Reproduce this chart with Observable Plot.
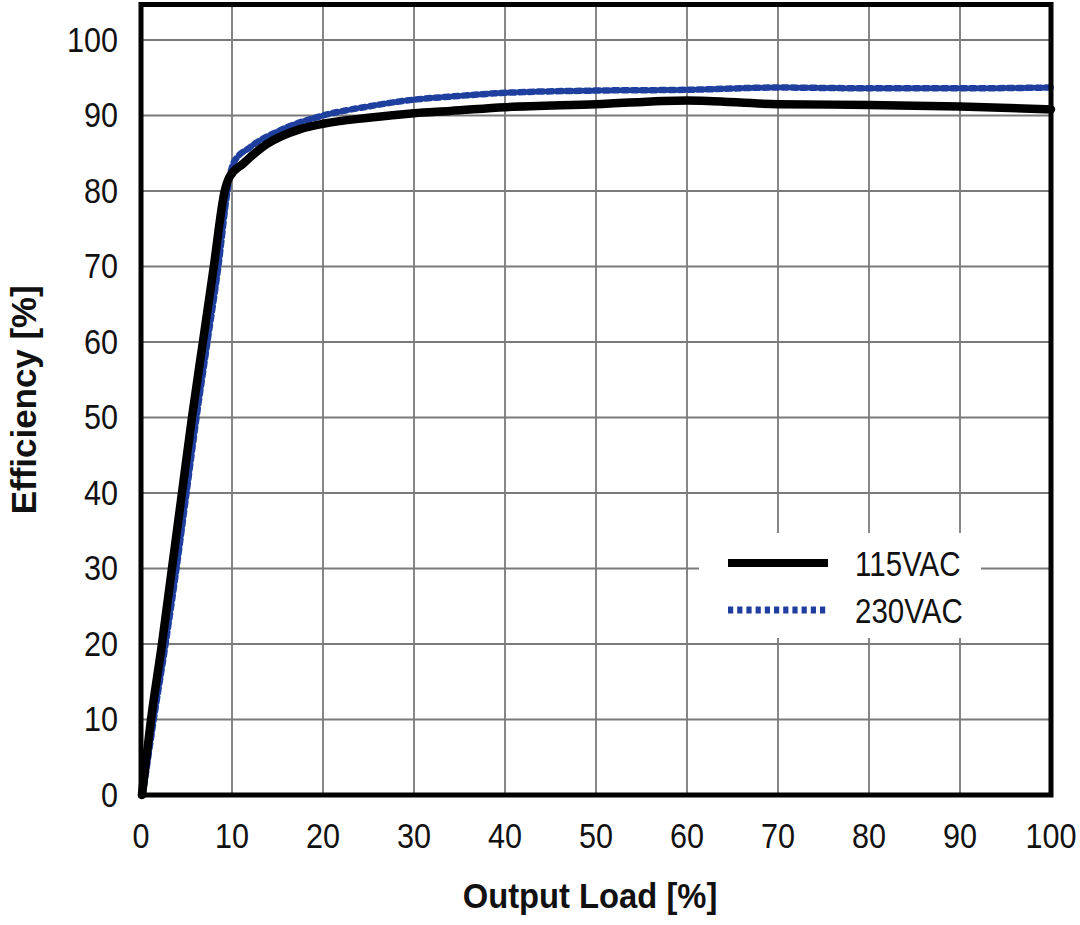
<!DOCTYPE html>
<html>
<head>
<meta charset="utf-8">
<script src="https://cdn.jsdelivr.net/npm/d3@7"></script>
<script src="https://cdn.jsdelivr.net/npm/@observablehq/plot@0.6"></script>
<style>
  html, body { margin: 0; padding: 0; background: #fff; }
  #wrap { position: relative; width: 1080px; height: 925px; font-family: 'Liberation Sans', Arial, sans-serif; }
  #legend { position: absolute; left: 699px; top: 533px; width: 282px; height: 105px; background: #fff; }
</style>
</head>
<body>
<div id="wrap"></div>
<script>
// ---- data ----
const seriesNames = ["115VAC", "230VAC"];
const load115 = [0.1, 1.1, 2.3, 3.4, 4.5, 5.6, 6.8, 8.0, 9.2, 9.7, 11.2, 13.8, 17.5, 20, 25, 30, 34, 40, 50, 60, 70, 80, 90, 100];
const eff115  = [0, 10, 20, 30, 40, 50, 60, 70, 80, 81.8, 83.6, 86.2, 88.2, 88.9, 89.7, 90.3, 90.6, 91.1, 91.5, 92.0, 91.5, 91.4, 91.2, 90.8];
const load230 = [0.2, 1.4, 2.7, 3.9, 5.0, 6.1, 7.3, 8.5, 9.5, 9.8, 10.2, 12.0, 15.6, 20, 25, 30, 34, 40, 50, 60, 70, 80, 90, 100];
const eff230  = [0, 10, 20, 30, 40, 50, 60, 70, 80, 82.2, 83.8, 85.8, 88.2, 90.0, 91.2, 92.1, 92.5, 93.0, 93.3, 93.4, 93.7, 93.6, 93.6, 93.7];
const xTicks = [0, 10, 20, 30, 40, 50, 60, 70, 80, 90, 100];
const yTicks = [0, 10, 20, 30, 40, 50, 60, 70, 80, 90, 100];
const xTitle = "Output Load [%]";
const yTitle = "Efficiency [%]";

const colors = {"115VAC": "#000000", "230VAC": "#1e3f9e"};

const rows = [
  ...load115.map((x, i) => ({series: seriesNames[0], load: x, eff: eff115[i]})),
  ...load230.map((x, i) => ({series: seriesNames[1], load: x, eff: eff230[i]}))
];

const font = "'Liberation Sans', Arial, sans-serif";

const chart = Plot.plot({
  width: 1080,
  height: 925,
  marginLeft: 140.5,
  marginRight: 29.5,
  marginTop: 4,
  marginBottom: 130.5,
  style: {fontFamily: font, background: "#fff", color: "#000"},
  x: {domain: [0, 100]},
  y: {domain: [0, 104.7]},
  marks: [
    Plot.gridX(xTicks.filter(d => d > 0 && d < 100), {stroke: "#7a7a7a", strokeOpacity: 1, strokeWidth: 1.8}),
    Plot.gridY(yTicks.filter(d => d > 0), {stroke: "#7a7a7a", strokeOpacity: 1, strokeWidth: 1.8}),
    Plot.axisX(xTicks, {tickSize: 0, tickPadding: 27, fontSize: 36, label: null, fill: "#111"}),
    Plot.axisY(yTicks, {tickSize: 0, tickPadding: 23, fontSize: 36, label: null, fill: "#111"}),
    Plot.line(rows.filter(d => d.series === seriesNames[1]), {
      x: "load", y: "eff", stroke: colors[seriesNames[1]], strokeWidth: 6.5,
      strokeDasharray: "4.8,4.6", curve: "monotone-x"
    }),
    Plot.line(rows.filter(d => d.series === seriesNames[0]), {
      x: "load", y: "eff", stroke: colors[seriesNames[0]], strokeWidth: 8.5,
      strokeLinejoin: "round", curve: "monotone-x"
    }),
    Plot.frame({stroke: "#000", strokeWidth: 5}),
    Plot.text([xTitle], {frameAnchor: "bottom", dy: 101, dx: -6, lineAnchor: "middle", textAnchor: "middle",
      fontSize: 36, fontWeight: "bold", fill: "#111", className: "xtitle"}),
    Plot.text([yTitle], {frameAnchor: "left", dx: -117, rotate: -90, lineAnchor: "middle", textAnchor: "middle",
      fontSize: 36, fontWeight: "bold", fill: "#111", className: "ytitle"})
  ]
});

// condense text horizontally (reference uses a condensed face)
function condense(sel, s) {
  sel.forEach(t => {
    const T = t.getAttribute("transform") || "";
    t.setAttribute("transform", `${T} scale(${s},1)`);
  });
}
condense(chart.querySelectorAll('g[aria-label="x-axis tick label"] text, g[aria-label="y-axis tick label"] text'), 0.85);
condense(chart.querySelectorAll('.xtitle text'), 0.91);
condense(chart.querySelectorAll('.ytitle text'), 0.97);

const wrap = document.getElementById("wrap");
wrap.appendChild(chart);

// legend overlay
const legend = document.createElement("div");
legend.id = "legend";
const ns = "http://www.w3.org/2000/svg";
const lsvg = document.createElementNS(ns, "svg");
lsvg.setAttribute("width", 282);
lsvg.setAttribute("height", 105);
const rowsY = [30, 77];
seriesNames.forEach((name, i) => {
  const ln = document.createElementNS(ns, "line");
  ln.setAttribute("x1", 29); ln.setAttribute("x2", 129);
  ln.setAttribute("y1", rowsY[i]); ln.setAttribute("y2", rowsY[i]);
  ln.setAttribute("stroke", colors[name]);
  ln.setAttribute("stroke-width", i === 0 ? 8 : 7);
  if (i === 1) ln.setAttribute("stroke-dasharray", "5.2,4");
  lsvg.appendChild(ln);
  const t = document.createElementNS(ns, "text");
  t.setAttribute("transform", `translate(156,${rowsY[i]}) scale(0.82,1)`);
  t.setAttribute("dy", "0.35em");
  t.setAttribute("font-size", 36);
  t.setAttribute("font-family", font);
  t.setAttribute("fill", "#111");
  t.textContent = name;
  lsvg.appendChild(t);
});
legend.appendChild(lsvg);
wrap.appendChild(legend);
</script>
</body>
</html>
